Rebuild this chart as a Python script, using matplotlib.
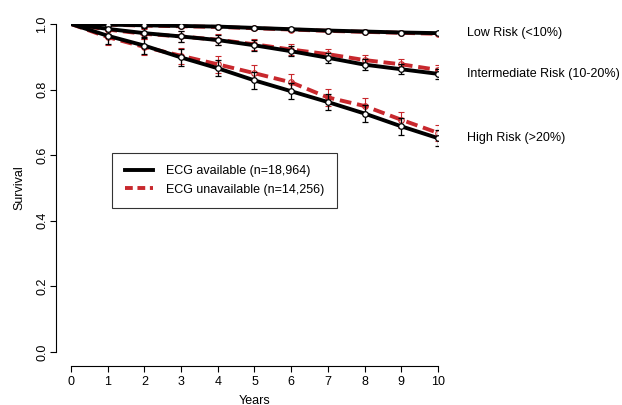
import matplotlib
matplotlib.use("Agg")
import matplotlib.pyplot as plt
from matplotlib.lines import Line2D

plt.rcParams['font.family'] = ['Liberation Sans', 'DejaVu Sans']

years = [0, 1, 2, 3, 4, 5, 6, 7, 8, 9, 10]

# ECG available (black)
low_avail = [1.0, 0.998, 0.996, 0.994, 0.992, 0.988, 0.984, 0.980, 0.977, 0.974, 0.972]
int_avail = [1.0, 0.985, 0.972, 0.962, 0.951, 0.935, 0.917, 0.897, 0.876, 0.862, 0.848]
high_avail = [1.0, 0.964, 0.934, 0.898, 0.865, 0.828, 0.795, 0.762, 0.727, 0.688, 0.652]

# ECG unavailable (red)
low_unav = [1.0, 0.998, 0.995, 0.993, 0.991, 0.987, 0.983, 0.979, 0.976, 0.973, 0.970]
int_unav = [1.0, 0.983, 0.970, 0.962, 0.952, 0.938, 0.922, 0.908, 0.890, 0.877, 0.860]
high_unav = [1.0, 0.960, 0.930, 0.903, 0.877, 0.850, 0.822, 0.776, 0.750, 0.708, 0.668]

# half-width of error bars per group
err_low = 0.004
err_int = 0.016
err_high = 0.025

risk_labels = ["Low Risk (<10%)", "Intermediate Risk (10-20%)", "High Risk (>20%)"]

red = '#c8282d'
fs = 9

fig = plt.figure(figsize=(6.22, 4.05), dpi=100)
ax = fig.add_axes([0.1141, 0.1309, 0.5900, 0.8099])

groups = [(low_avail, low_unav, err_low),
          (int_avail, int_unav, err_int),
          (high_avail, high_unav, err_high)]

for avail, unav, err in groups:
    ax.plot(years, unav, color=red, lw=2.8, dashes=(3, 1.5), zorder=2)
    ax.errorbar(years[1:], unav[1:], yerr=err, fmt='o', ms=4, mfc='none',
                mec=red, ecolor=red, elinewidth=0.8, capsize=2.5, mew=0.8, zorder=3)
    ax.plot(years, avail, color='black', lw=2.8, zorder=4)
    ax.errorbar(years[1:], avail[1:], yerr=err, fmt='o', ms=4, mfc='white',
                mec='black', ecolor='black', elinewidth=0.9, capsize=2.5, mew=0.9, zorder=5)

for s in ['top', 'right']:
    ax.spines[s].set_visible(False)
ax.spines['left'].set_position(('outward', 10.8))
ax.spines['bottom'].set_position(('outward', 10))
ax.spines['left'].set_bounds(0, 1)
ax.spines['bottom'].set_bounds(0, 10)
ax.spines['left'].set_linewidth(0.8)
ax.spines['bottom'].set_linewidth(0.8)

ax.set_xlim(0, 10)
ax.set_ylim(0, 1)
ax.set_xticks(years)
ax.set_yticks([0.0, 0.2, 0.4, 0.6, 0.8, 1.0])
ax.set_yticklabels(['0.0', '0.2', '0.4', '0.6', '0.8', '1.0'])
ax.tick_params(labelsize=fs, length=4, width=0.8, pad=3)
ax.tick_params(axis='y', labelrotation=90, pad=1.5)
for t in ax.get_yticklabels():
    t.set_va('center')

ax.set_xlabel('Years', fontsize=fs, labelpad=5)
ax.set_ylabel('Survival', fontsize=fs, labelpad=8)

ends = [low_avail[-1], int_avail[-1], high_avail[-1]]
for lab, yv in zip(risk_labels, ends):
    ax.text(10.8, yv, lab, fontsize=fs, ha='left', va='center', clip_on=False)

handles = [Line2D([], [], color='black', lw=2.8),
           Line2D([], [], color=red, lw=2.8, dashes=(2.0, 1.2))]
leg = ax.legend(handles, ['ECG available (n=18,964)', 'ECG unavailable (n=14,256)'],
                loc='upper left', bbox_to_anchor=(0.112, 0.607), fontsize=fs,
                frameon=True, fancybox=False, edgecolor='black', handlelength=2.3,
                borderpad=1.0, labelspacing=0.5, handletextpad=1.0,
                borderaxespad=0)
leg.get_frame().set_linewidth(0.8)

fig.savefig('out.png', dpi=100)
